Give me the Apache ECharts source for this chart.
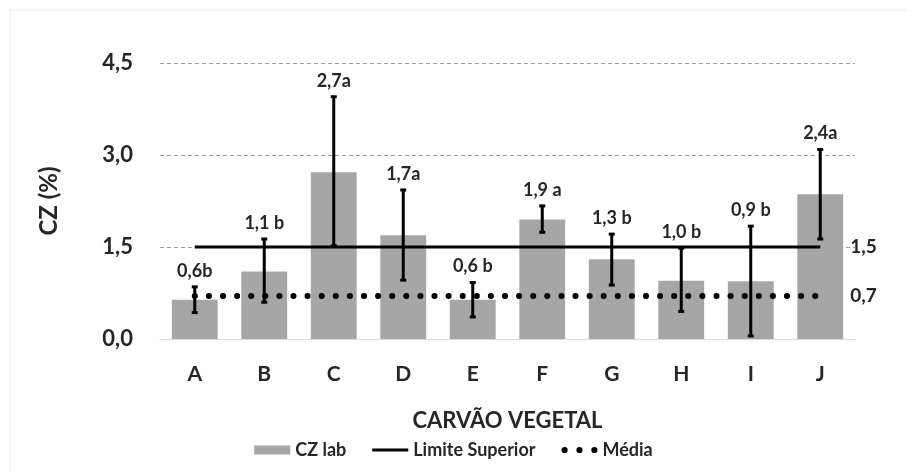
<!DOCTYPE html>
<html>
<head>
<meta charset="utf-8">
<script src="https://cdn.jsdelivr.net/npm/echarts@6/dist/echarts.min.js"></script>
<style>
  html, body { margin: 0; padding: 0; background: #fff; }
  #chart { width: 907px; height: 472px; }
</style>
</head>
<body>
<div id="chart"></div>
<script>
// dados
var categories = ['A', 'B', 'C', 'D', 'E', 'F', 'G', 'H', 'I', 'J']
var czLab = [0.64, 1.10, 2.72, 1.69, 0.64, 1.95, 1.30, 0.95, 0.94, 2.36]
var errLow = [0.43, 0.60, 1.52, 0.96, 0.36, 1.74, 0.88, 0.45, 0.05, 1.63]
var errHigh = [0.85, 1.63, 3.95, 2.43, 0.92, 2.17, 1.71, 1.48, 1.84, 3.09]
var barLabels = ['0,6b', '1,1 b', '2,7a', '1,7a', '0,6 b', '1,9 a', '1,3 b', '1,0 b', '0,9 b', '2,4a']
var limiteSuperior = [1.5, 1.5, 1.5, 1.5, 1.5, 1.5, 1.5, 1.5, 1.5, 1.5]
var media = [0.7, 0.7, 0.7, 0.7, 0.7, 0.7, 0.7, 0.7, 0.7, 0.7]
var yTicks = [0, 1.5, 3.0, 4.5]

var font = 'Lato, "Open Sans", sans-serif'
var ink = '#262626'

var errData = categories.map(function (c, i) {
  return [i, errLow[i], errHigh[i], barLabels[i]]
})

function fmt (v) {
  return v.toFixed(1).replace('.', ',')
}

var option = {
  animation: false,
  textStyle: { fontFamily: font },
  graphic: [{
    type: 'rect',
    shape: { x: 10, y: 10, width: 905, height: 470 },
    style: { fill: 'none', stroke: '#ececec', lineWidth: 1 },
    silent: true
  }],
  grid: { left: 160, right: 52, top: 63, bottom: 133 },
  legend: {
    bottom: 8,
    left: 'center',
    itemGap: 26,
    itemWidth: 36,
    itemHeight: 9,
    textStyle: { fontFamily: font, fontWeight: 'bold', fontSize: 18, color: ink },
    data: [
      { name: 'CZ lab', icon: 'rect' },
      { name: 'Limite Superior', icon: 'path://M0,0 L38,0 L38,3 L0,3 Z' },
      { name: 'Média', icon: 'path://M0,2.5 A2.5,2.5 0 1 1 5,2.5 A2.5,2.5 0 1 1 0,2.5 Z M12,2.5 A2.5,2.5 0 1 1 17,2.5 A2.5,2.5 0 1 1 12,2.5 Z M24,2.5 A2.5,2.5 0 1 1 29,2.5 A2.5,2.5 0 1 1 24,2.5 Z' }
    ]
  },
  xAxis: {
    type: 'category',
    data: categories,
    name: 'CARVÃO VEGETAL',
    nameLocation: 'middle',
    nameGap: 71,
    nameTextStyle: { fontFamily: font, fontWeight: 'bold', fontSize: 22, color: ink },
    axisLine: { lineStyle: { color: '#dcdcdc', width: 1 } },
    axisTick: { show: false },
    axisLabel: { fontFamily: font, fontWeight: 'bold', fontSize: 21, color: ink, margin: 25 }
  },
  yAxis: {
    type: 'value',
    min: 0,
    max: 4.5,
    interval: 1.5,
    name: 'CZ (%)',
    nameLocation: 'middle',
    nameGap: 99,
    nameTextStyle: { fontFamily: font, fontWeight: 'bold', fontSize: 24, color: ink },
    axisLine: { show: false },
    axisTick: { show: false },
    axisLabel: {
      fontFamily: font, fontWeight: 'bold', fontSize: 22, color: ink, margin: 27,
      formatter: function (v) { return yTicks.indexOf(v) >= 0 ? fmt(v) : '' }
    },
    splitLine: { lineStyle: { color: '#9a9a9a', type: [4, 3], width: 1 } }
  },
  series: [
    {
      name: 'CZ lab',
      type: 'bar',
      data: czLab,
      barWidth: '66%',
      itemStyle: { color: '#a6a6a6' },
      z: 2
    },
    {
      name: 'Limite Superior',
      type: 'line',
      data: limiteSuperior,
      symbol: 'none',
      lineStyle: { color: '#000', width: 3 },
      itemStyle: { color: '#000' },
      endLabel: {
        show: true, formatter: '1,5', distance: 30,
        fontFamily: font, fontWeight: 'bold', fontSize: 19, color: ink
      },
      z: 3
    },
    {
      name: 'Média',
      type: 'line',
      data: media,
      symbol: 'none',
      lineStyle: { color: '#000', width: 6, type: [0.1, 14], cap: 'round' },
      itemStyle: { color: '#000' },
      endLabel: {
        show: true, formatter: '0,7', distance: 30,
        fontFamily: font, fontWeight: 'bold', fontSize: 19, color: ink
      },
      z: 3
    },
    {
      name: 'erro',
      type: 'custom',
      data: errData,
      z: 5,
      renderItem: function (params, api) {
        var x = api.value(0)
        var lo = api.coord([x, api.value(1)])
        var hi = api.coord([x, api.value(2)])
        var cap = 3
        return {
          type: 'group',
          children: [
            { type: 'line', shape: { x1: lo[0], y1: lo[1], x2: hi[0], y2: hi[1] },
              style: { stroke: '#000', lineWidth: 3 } },
            { type: 'line', shape: { x1: lo[0] - cap, y1: lo[1], x2: lo[0] + cap, y2: lo[1] },
              style: { stroke: '#000', lineWidth: 3 } },
            { type: 'line', shape: { x1: hi[0] - cap, y1: hi[1], x2: hi[0] + cap, y2: hi[1] },
              style: { stroke: '#000', lineWidth: 3 } },
            { type: 'text', x: hi[0], y: hi[1] - 7,
              style: {
                text: api.value(3), textAlign: 'center', textVerticalAlign: 'bottom',
                fontFamily: font, fontWeight: 'bold', fontSize: 18, fill: ink
              } }
          ]
        }
      }
    }
  ]
}

var chart = echarts.init(document.getElementById('chart'))
chart.setOption(option)
</script>
</body>
</html>
